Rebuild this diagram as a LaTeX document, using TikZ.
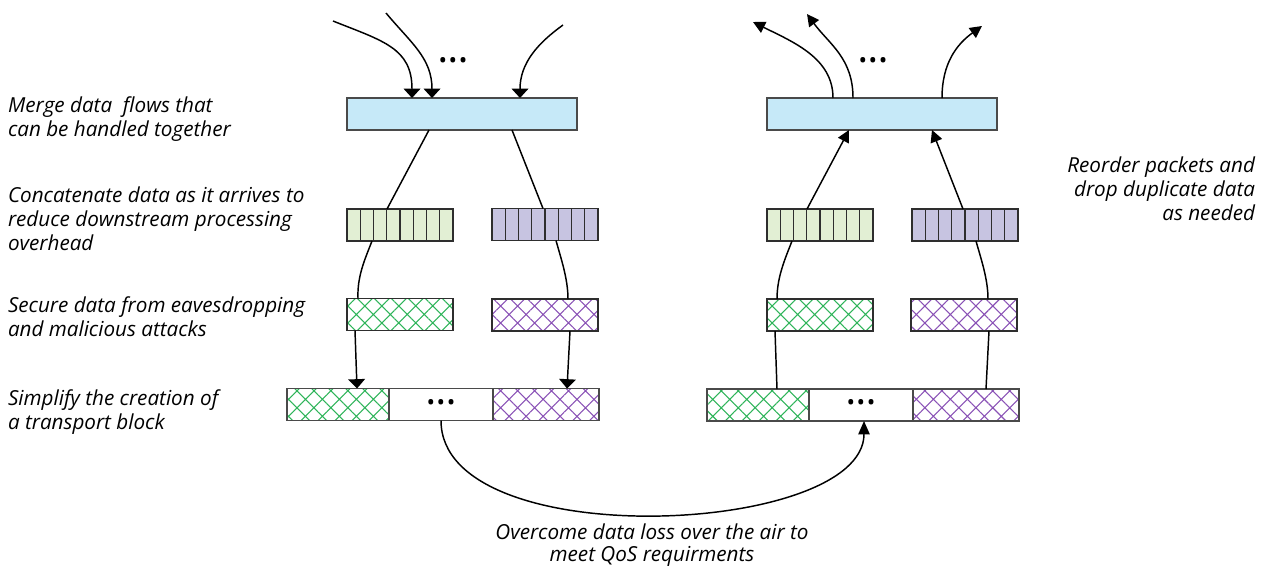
\documentclass[tikz,border=0pt]{standalone}
\usepackage{fontspec}
\setmainfont{Open Sans}
\usetikzlibrary{arrows.meta,patterns.meta,calc}
\definecolor{boxblue}{HTML}{C6E9F8}
\definecolor{bargreen}{HTML}{E2EFD4}
\definecolor{barpurple}{HTML}{C7C4E1}
\definecolor{hgreen}{HTML}{2FB45A}
\definecolor{hpurple}{HTML}{8A52B6}
\definecolor{edge}{HTML}{4A4A4A}
\definecolor{darkedge}{HTML}{2E2E2E}
\begin{document}
\begin{tikzpicture}[x=0.75pt,y=-0.75pt,
  every node/.style={inner sep=0pt, outer sep=0pt},
  flowbox/.style={draw=edge, line width=1.1pt, fill=boxblue, minimum width=172.5pt, minimum height=24pt},
  cellbar/.style={draw=darkedge, line width=1.1pt, minimum width=79.5pt, minimum height=24pt},
  greenbar/.style={cellbar, fill=bargreen},
  purplebar/.style={cellbar, fill=barpurple},
  hatbox/.style={draw=darkedge, line width=1.1pt, minimum height=24pt},
  greenhat/.style={hatbox, pattern={Hatch[angle=45,distance=9pt,line width=0.8pt]}, pattern color=hgreen},
  purplehat/.style={hatbox, pattern={Hatch[angle=45,distance=9pt,line width=0.8pt]}, pattern color=hpurple},
  plainbox/.style={draw=edge, line width=1.1pt, minimum height=24pt, minimum width=78pt},
  cellline/.style={draw=darkedge, line width=0.9pt},
  wire/.style={line width=1.1pt, draw=black},
  arrD/.style={wire, -{Triangle[width=12.5pt,length=7pt]}},
  arrU/.style={wire, -{Triangle[width=9pt,length=9pt]}},
  arrB/.style={wire, -{Triangle[width=8.5pt,length=10pt]}},
  desc/.style={font=\itshape\fontsize{15.5}{18}\selectfont, align=left},
  dotrow/.style={font=\fontsize{17}{17}\selectfont}
]
\useasboundingbox (0,0) rectangle (1266,569);

% blue boxes
\node[flowbox] (blueL) at (462,114) {};
\node[flowbox] (blueR) at (882,114) {};

% bars with cells
\node[greenbar] (barGL) at (400,225) {};
\node[purplebar] (barPL) at (545,224.5) {};
\node[greenbar] (barGR) at (820,225) {};
\node[purplebar] (barPR) at (965,225) {};
\foreach \n in {barGL,barPL,barGR,barPR}{
  \foreach \i in {1,...,7}{
    \draw[cellline] ($(\n.south west)!{\i/8}!(\n.south east)$) -- ($(\n.north west)!{\i/8}!(\n.north east)$);
  }
}

% hatched boxes
\node[greenhat, minimum width=79.5pt] (hatGL) at (400,314.5) {};
\node[purplehat, minimum width=79.5pt] (hatPL) at (545,315) {};
\node[greenhat, minimum width=79.5pt] (hatGR) at (820,315) {};
\node[purplehat, minimum width=79.5pt] (hatPR) at (964,315) {};

% transport blocks
\node[greenhat, minimum width=76.5pt, draw=edge] (tbLa) at (338,404.5) {};
\node[plainbox] (tbLb) at (441,404.5) {};
\node[purplehat, minimum width=79.5pt, draw=edge] (tbLc) at (546,404.5) {};
\node[dotrow] (dtbL) at (441,404.5) {\textbullet\hspace{1.2pt}\textbullet\hspace{1.2pt}\textbullet};
\node[greenhat, minimum width=76.5pt, draw=edge] (tbRa) at (758,405) {};
\node[plainbox] (tbRb) at (861,405) {};
\node[purplehat, minimum width=79.5pt, draw=edge] (tbRc) at (966,405) {};
\node[dotrow] (dtbR) at (861,405) {\textbullet\hspace{1.2pt}\textbullet\hspace{1.2pt}\textbullet};

% top dots
\node[dotrow] (dtopL) at (453,63) {\textbullet\hspace{1.2pt}\textbullet\hspace{1.2pt}\textbullet};
\node[dotrow] (dtopR) at (873,63) {\textbullet\hspace{1.2pt}\textbullet\hspace{1.2pt}\textbullet};

% incoming flows
\coordinate (inA) at (333,21);
\coordinate (inB) at (386,13);
\coordinate (inC) at (563,25);
\draw[arrD] (inA) .. controls +(50,20) and +(0,-50) .. ($(blueL.north west)+(65,0)$);
\draw[arrD] (inB) .. controls +(25,30) and +(0,-40) .. ($(blueL.north west)+(85,0)$);
\draw[arrD] (inC) .. controls +(-25,18) and +(0,-35) .. ($(blueL.north west)+(173,0)$);

% outgoing flows
\coordinate (outA) at (753,22);
\coordinate (outB) at (807,14);
\coordinate (outC) at (982,26);
\draw[arrU] ($(blueR.north west)+(66,0)$) .. controls +(0,-40) and +(40,20) .. (outA);
\draw[arrU] ($(blueR.north west)+(86,0)$) .. controls +(0,-40) and +(22,30) .. (outB);
\draw[arrU] ($(blueR.north west)+(175,0)$) .. controls +(0,-35) and +(-25,18) .. (outC);

% left chain
\draw[wire] ($(blueL.south west)+(82,0)$) -- ($(barGL.north west)+(40,0)$);
\draw[wire] ($(blueL.south west)+(165,0)$) -- ($(barPL.north west)+(51,0)$);
\draw[wire] ($(barGL.south west)+(25,0)$) .. controls +(-7,18) and +(-1,-22) .. ($(hatGL.north west)+(11,0)$);
\draw[wire] ($(barPL.south west)+(64,0)$) .. controls +(5,18) and +(0,-20) .. ($(hatPL.north west)+(76,0)$);
\draw[arrD] ($(hatGL.south west)+(8,0)$) -- ($(tbLa.north west)+(70,0)$);
\draw[arrD] ($(hatPL.south west)+(78,0)$) -- ($(tbLc.north west)+(74,0)$);

% right chain
\draw[arrU] ($(barGR.north west)+(40,0)$) -- ($(blueR.south west)+(82,0)$);
\draw[arrU] ($(barPR.north west)+(51,0)$) -- ($(blueR.south west)+(165,0)$);
\draw[wire] ($(barGR.south west)+(25,0)$) .. controls +(-7,18) and +(0,-22) .. ($(hatGR.north west)+(10,0)$);
\draw[wire] ($(barPR.south west)+(64,0)$) .. controls +(5,18) and +(0,-20) .. ($(hatPR.north west)+(77,0)$);
\draw[wire] ($(hatGR.south west)+(8,0)$) -- ($(tbRa.north west)+(70,0)$);
\draw[wire] ($(hatPR.south west)+(78,0)$) -- ($(tbRc.north west)+(73,0)$);

% over the air
\draw[arrB] (tbLb.south) .. controls +(0,135) and +(0,115) .. ($(tbRb.south)+(3,0)$);

% labels
\node[desc, anchor=north west] (lab1) at (8,97) {Merge data~ flows that\\can be handled together};
\node[desc, anchor=north west] (lab2) at (8,187) {Concatenate data as it arrives to\\reduce downstream processing\\overhead};
\node[desc, anchor=north west] (lab3) at (8,296.5) {Secure data from eavesdropping\\and malicious attacks};
\node[desc, anchor=north west] (lab4) at (8,389.5) {Simplify the creation of\\a transport block};
\node[desc, align=right, anchor=north east] (lab5) at (1255,156.5) {Reorder packets and\\drop duplicate data\\as needed};
\node[desc, align=center, anchor=north, font=\itshape\fontsize{15.5}{16.5}\selectfont] (lab6) at (652,524) {Overcome data loss over the air to\\meet QoS requirments};
\end{tikzpicture}
\end{document}
